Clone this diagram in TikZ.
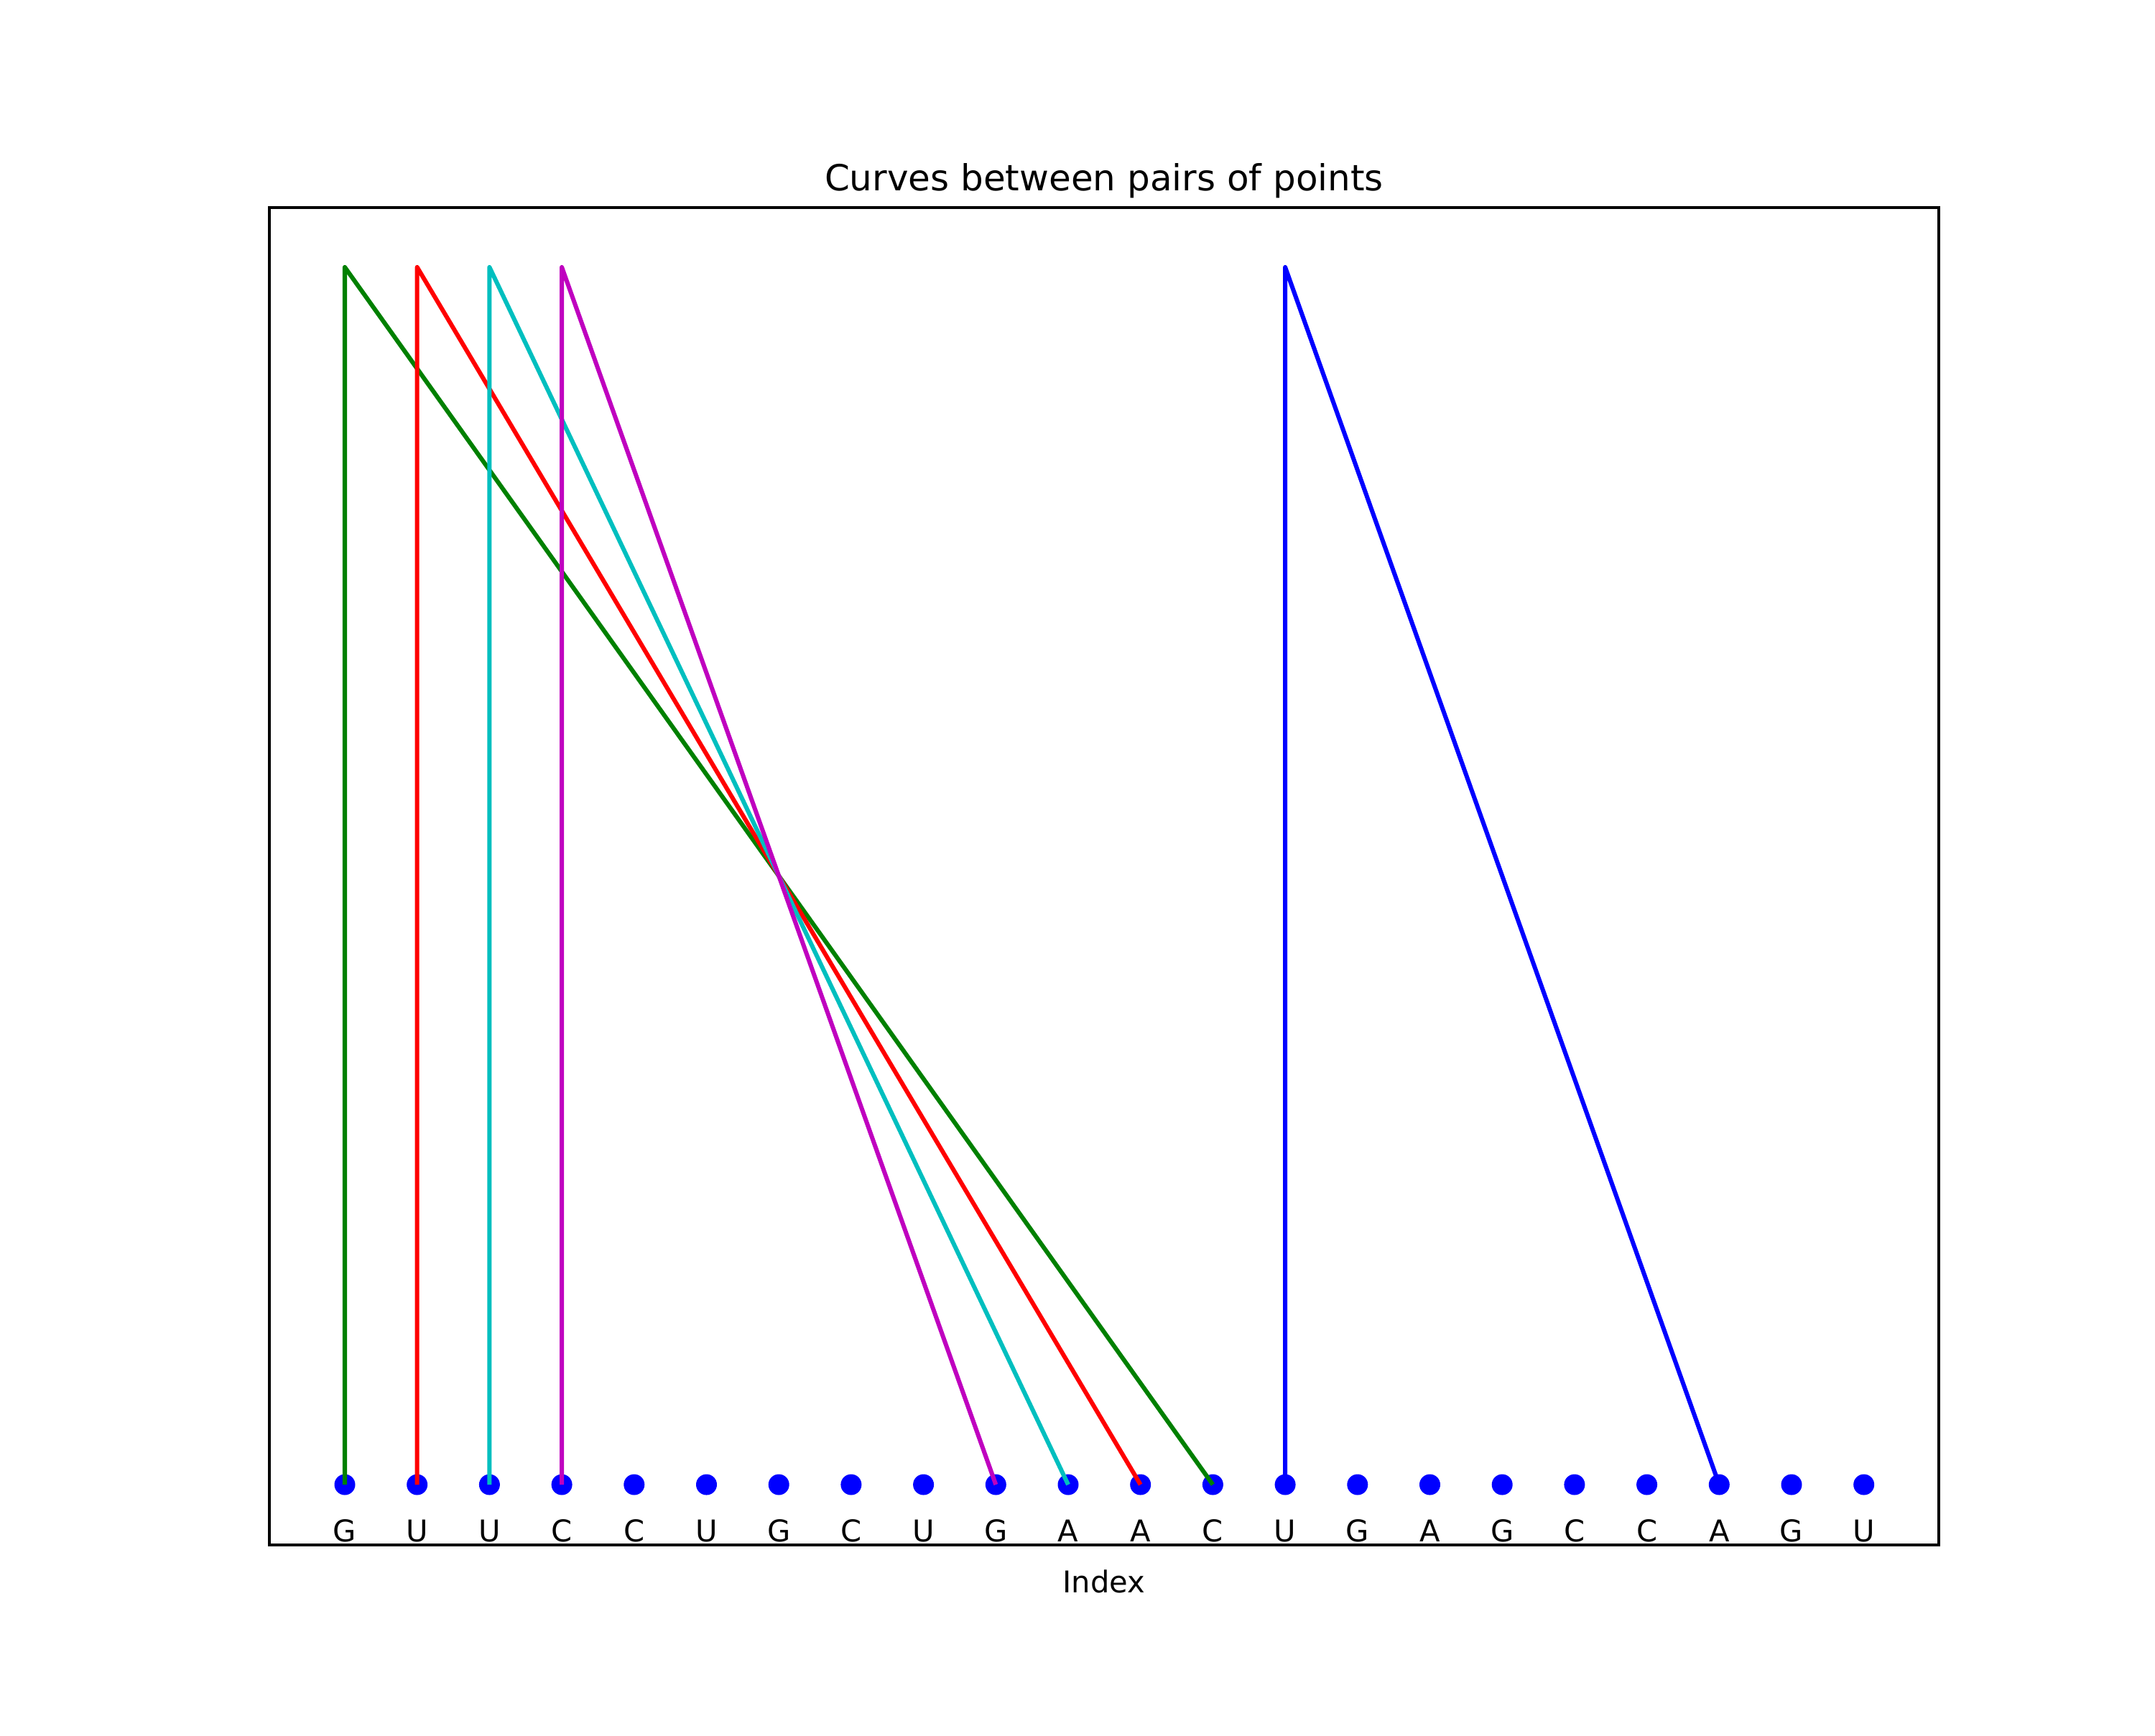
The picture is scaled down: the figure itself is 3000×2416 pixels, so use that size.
\documentclass[tikz,border=0pt]{standalone}
\usepackage{fontspec}
\setmainfont{DejaVu Sans}
\definecolor{mplg}{rgb}{0,0.5,0}
\definecolor{mplr}{rgb}{1,0,0}
\definecolor{mplc}{rgb}{0,0.75,0.75}
\definecolor{mplm}{rgb}{0.75,0,0.75}
\definecolor{mplb}{rgb}{0,0,1}
\begin{document}
\begin{tikzpicture}[x=0.24pt,y=-0.24pt,
  dot/.style={circle,fill=mplb,inner sep=0pt,minimum size=6.96pt},
  base/.style={anchor=base,inner sep=0pt,font=\fontsize{10}{12}\selectfont},
  arc/.style={line width=1.45pt,line join=round}]
\useasboundingbox (0,0) rectangle (3000,2416);
\fill[white] (0,0) rectangle (3000,2416);
% frame
\node[draw=black,line width=1pt,inner sep=0pt,minimum width=2324*0.24pt,minimum height=1862*0.24pt] (frame) at (1537,1220) {};
% title and axis label
\node[anchor=base,inner sep=0pt,font=\fontsize{12}{14}\selectfont] (title) at (1537,265) {Curves between pairs of points};
\node[anchor=base,inner sep=0pt,font=\fontsize{10}{12}\selectfont] (xlabel) at (1537,2217) {Index};
% points and letters
\foreach \l [count=\i from 0] in {G,U,U,C,C,U,G,C,U,G,A,A,C,U,G,A,G,C,C,A,G,U}{
  \node[dot] (p\i) at ({480+100.7*\i},2067) {};
  \node[base] (l\i) at ({480+100.7*\i},2146) {\l};
  \coordinate (t\i) at ({480+100.7*\i},372);
}
% connectors
\draw[arc,mplg] (p0.center) -- (t0) -- (p12.center);
\draw[arc,mplr] (p1.center) -- (t1) -- (p11.center);
\draw[arc,mplc] (p2.center) -- (t2) -- (p10.center);
\draw[arc,mplm] (p3.center) -- (t3) -- (p9.center);
\draw[arc,mplb] (p13.center) -- (t13) -- (p19.center);
\end{tikzpicture}
\end{document}
